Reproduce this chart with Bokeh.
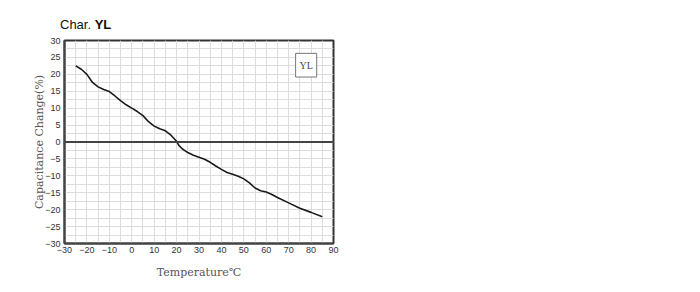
from bokeh.plotting import figure
from bokeh.layouts import column
from bokeh.models import (Range1d, SingleIntervalTicker, Span, Label, BoxAnnotation, Div)
from bokeh.embed import file_html
from bokeh.resources import INLINE

# Data
temperature = [-25, -22.5, -20, -17.5, -15, -12.5, -10, -7.5, -5, -2.5, 0, 2.5, 5, 7.5,
               10, 12.5, 15, 17.5, 20, 21, 22.5, 24, 25, 27.5, 30, 32.5, 35, 37.5, 40, 42.5,
               45, 47.5, 50, 52.5, 55, 57.5, 60, 62.5, 65, 70, 75, 80, 85]
cap_change = [22.5, 21.5, 20.0, 17.6, 16.3, 15.5, 14.9, 13.6, 12.2, 11.0, 10.0, 9.0, 7.8, 6.0,
              4.7, 3.9, 3.3, 2.0, 0.2, -1.0, -2.0, -2.7, -3.1, -3.9, -4.5, -5.1, -6.0, -7.1, -8.1, -9.0,
              -9.5, -10.1, -10.9, -12.1, -13.6, -14.4, -14.8, -15.5, -16.4, -18.0, -19.6, -20.8, -22.1]
series_name = "YL"
title_prefix = "Char."
x_label = "Temperature\u2103"
y_label = "Capacitance Change(%)"

# ---- title strip ----
TOP_H = 36
title_div = Div(
    text=('<div style="margin:0;padding:17px 0 0 60px;'
          "font-family:'Liberation Sans',Arial,sans-serif;font-size:13px;line-height:15px;"
          'color:#111111;white-space:nowrap">'
          f'{title_prefix} <b>{series_name}</b></div>'),
    width=700, height=TOP_H, margin=0)

# ---- main chart ----
p = figure(width=700, height=292 - TOP_H, output_backend="svg", toolbar_location=None,
           x_range=Range1d(-30, 90), y_range=Range1d(-30, 30),
           min_border_left=64, min_border_right=367, min_border_top=40 - TOP_H,
           min_border_bottom=49)
p.background_fill_color = "white"
p.border_fill_color = "white"
p.outline_line_color = "#333333"
p.outline_line_width = 2

for ax in (p.xaxis[0], p.yaxis[0]):
    ax.major_tick_out = 0
    ax.major_tick_in = 0
    ax.minor_tick_out = 0
    ax.minor_tick_in = 0
    ax.axis_line_color = "#444444"
    ax.axis_line_width = 2
    ax.major_label_text_font = "Liberation Sans"
    ax.major_label_text_font_size = "9px"
    ax.major_label_text_color = "#333333"
    ax.axis_label_text_font = "DejaVu Serif"
    ax.axis_label_text_font_size = "11px"
    ax.axis_label_text_font_style = "normal"
    ax.axis_label_text_color = "#555555"

p.xaxis[0].ticker = SingleIntervalTicker(interval=10)
p.yaxis[0].ticker = SingleIntervalTicker(interval=5)
p.xaxis[0].major_label_standoff = 3
p.yaxis[0].major_label_standoff = 4
p.xaxis[0].axis_label = x_label
p.yaxis[0].axis_label = y_label
p.xaxis[0].axis_label_standoff = 10
p.yaxis[0].axis_label_standoff = -4

p.xgrid[0].ticker = SingleIntervalTicker(interval=5)
p.ygrid[0].ticker = SingleIntervalTicker(interval=2.5)
p.xgrid[0].grid_line_color = "#dddddd"
p.ygrid[0].grid_line_color = "#dddddd"
p.xgrid[0].grid_line_width = 1
p.ygrid[0].grid_line_width = 1

p.add_layout(Span(location=0, dimension="width", line_color="#444444", line_width=2))

p.line(temperature, cap_change, line_color="#1a1a1a", line_width=1.6)

p.add_layout(BoxAnnotation(left=73.1, right=82.5, top=26.2, bottom=19.2,
                           fill_color="white", fill_alpha=1.0,
                           line_color="#777777", line_width=1, line_alpha=1.0))
p.add_layout(Label(x=77.8, y=22.7, text=series_name, text_align="center",
                   text_baseline="middle", text_font="Liberation Serif",
                   text_font_size="10px", text_color="#444444"))

layout = column(title_div, p, spacing=0)
open("out.html", "w").write(file_html(layout, INLINE))
